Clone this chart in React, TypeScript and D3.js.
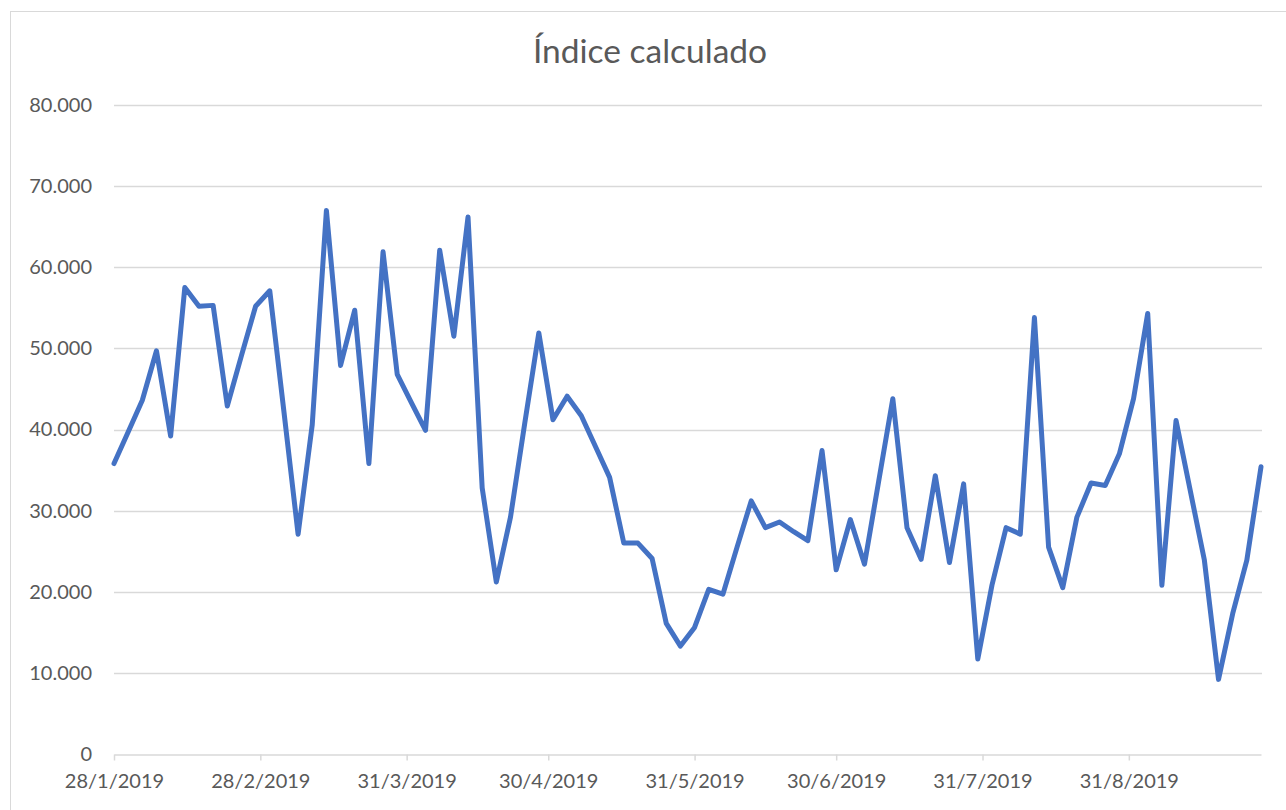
import React, { useRef, useLayoutEffect } from 'react'
import * as d3 from 'd3'

// serie "Índice calculado", un punto cada 3 días desde 28/1/2019
const startDate = new Date(2019, 0, 28)
const stepDays = 3
const values = [
  35800, 39700, 43600, 49700, 39200, 57500, 55200, 55300, 42900, 49100,
  55200, 57100, 42200, 27100, 40600, 67000, 47900, 54700, 35800, 61900,
  46800, 43300, 39900, 62100, 51500, 66200, 32800, 21200, 29200, 40700,
  51900, 41200, 44100, 41700, 37900, 34100, 26000, 26000, 24100, 16100,
  13300, 15600, 20300, 19700, 25500, 31200, 27900, 28600, 27400, 26300,
  37400, 22700, 28900, 23400, 33600, 43800, 27900, 24000, 34300, 23600,
  33300, 11700, 20800, 27900, 27100, 53800, 25500, 20500, 29200, 33400,
  33100, 37000, 43800, 54300, 20800, 41100, 32500, 23900, 9200, 17300,
  23900, 35400,
]
const tickDates = ['2019-01-28', '2019-02-28', '2019-03-31', '2019-04-30', '2019-05-31', '2019-06-30', '2019-07-31', '2019-08-31']
const yTicks = [0, 10000, 20000, 30000, 40000, 50000, 60000, 70000, 80000]

const W = 1286
const H = 810
const margin = { top: 105, right: 24, bottom: 56, left: 114 }
const FONT = 'Lato, "Open Sans", sans-serif'
const TEXT = '#595959'
const GRID = '#d9d9d9'

const esFormat = d3.formatLocale({ decimal: ',', thousands: '.', grouping: [3], currency: ['', '€'] }).format(',.0f')

const App = () => {
  const xAxisEl = useRef<SVGGElement>(null)
  const yAxisEl = useRef<SVGGElement>(null)

  const dates = values.map((_, i) => d3.timeDay.offset(startDate, i * stepDays))
  const data = values.map((v, i) => ({ date: dates[i], value: v }))

  const x = d3.scaleTime()
    .domain([dates[0], dates[dates.length - 1]])
    .range([margin.left, W - margin.right - 1])
  const y = d3.scaleLinear()
    .domain([0, 80000])
    .range([H - margin.bottom, margin.top])

  const line = d3.line<{ date: Date; value: number }>()
    .x(d => x(d.date))
    .y(d => y(d.value))

  const parse = d3.timeParse('%Y-%m-%d')
  const fmtDate = d3.timeFormat('%-d/%-m/%Y')

  useLayoutEffect(() => {
    const xAxis = d3.axisBottom(x)
      .tickValues(tickDates.map(s => parse(s) as Date))
      .tickFormat(d => fmtDate(d as Date))
      .tickSizeInner(6)
      .tickSizeOuter(0)
      .tickPadding(13)
    const gx = d3.select(xAxisEl.current!).call(xAxis)
    gx.select('.domain').attr('stroke', GRID).attr('stroke-width', 1.5)
    gx.selectAll('.tick line').attr('stroke', GRID).attr('stroke-width', 1.5)
    gx.selectAll('.tick text')
      .attr('fill', TEXT)
      .attr('font-size', 20)
      .attr('font-family', FONT)

    const yAxis = d3.axisLeft(y)
      .tickValues(yTicks)
      .tickFormat(d => esFormat(d as number))
      .tickSize(0)
      .tickPadding(22)
    const gy = d3.select(yAxisEl.current!).call(yAxis)
    gy.select('.domain').remove()
    gy.selectAll('.tick text')
      .attr('fill', TEXT)
      .attr('font-size', 20)
      .attr('font-family', FONT)
  }, [])

  return (
    <svg width={W} height={H} style={{ position: 'absolute', left: 0, top: 0 }}>
      <rect x={10.5} y={11.5} width={W + 20} height={H + 20} fill="#fff" stroke={GRID} strokeWidth={1} />
      <text x={650} y={63} textAnchor="middle" fontFamily={FONT} fontSize={33.5} fill={TEXT}>Índice calculado</text>
      <g className="grid">
        {yTicks.filter(t => t > 0).map(t => (
          <line key={t} x1={margin.left} x2={W - margin.right} y1={Math.round(y(t)) + 0.5} y2={Math.round(y(t)) + 0.5} stroke={GRID} strokeWidth={1.5} />
        ))}
      </g>
      <g className="xAxis" ref={xAxisEl} transform={`translate(0, ${Math.round(y(0)) + 0.5})`} />
      <g className="yAxis" ref={yAxisEl} transform={`translate(${margin.left}, 0)`} />
      <path d={line(data) || ''} fill="none" stroke="#4472C4" strokeWidth={5} strokeLinejoin="round" strokeLinecap="round" />
    </svg>
  )
}

export default App
